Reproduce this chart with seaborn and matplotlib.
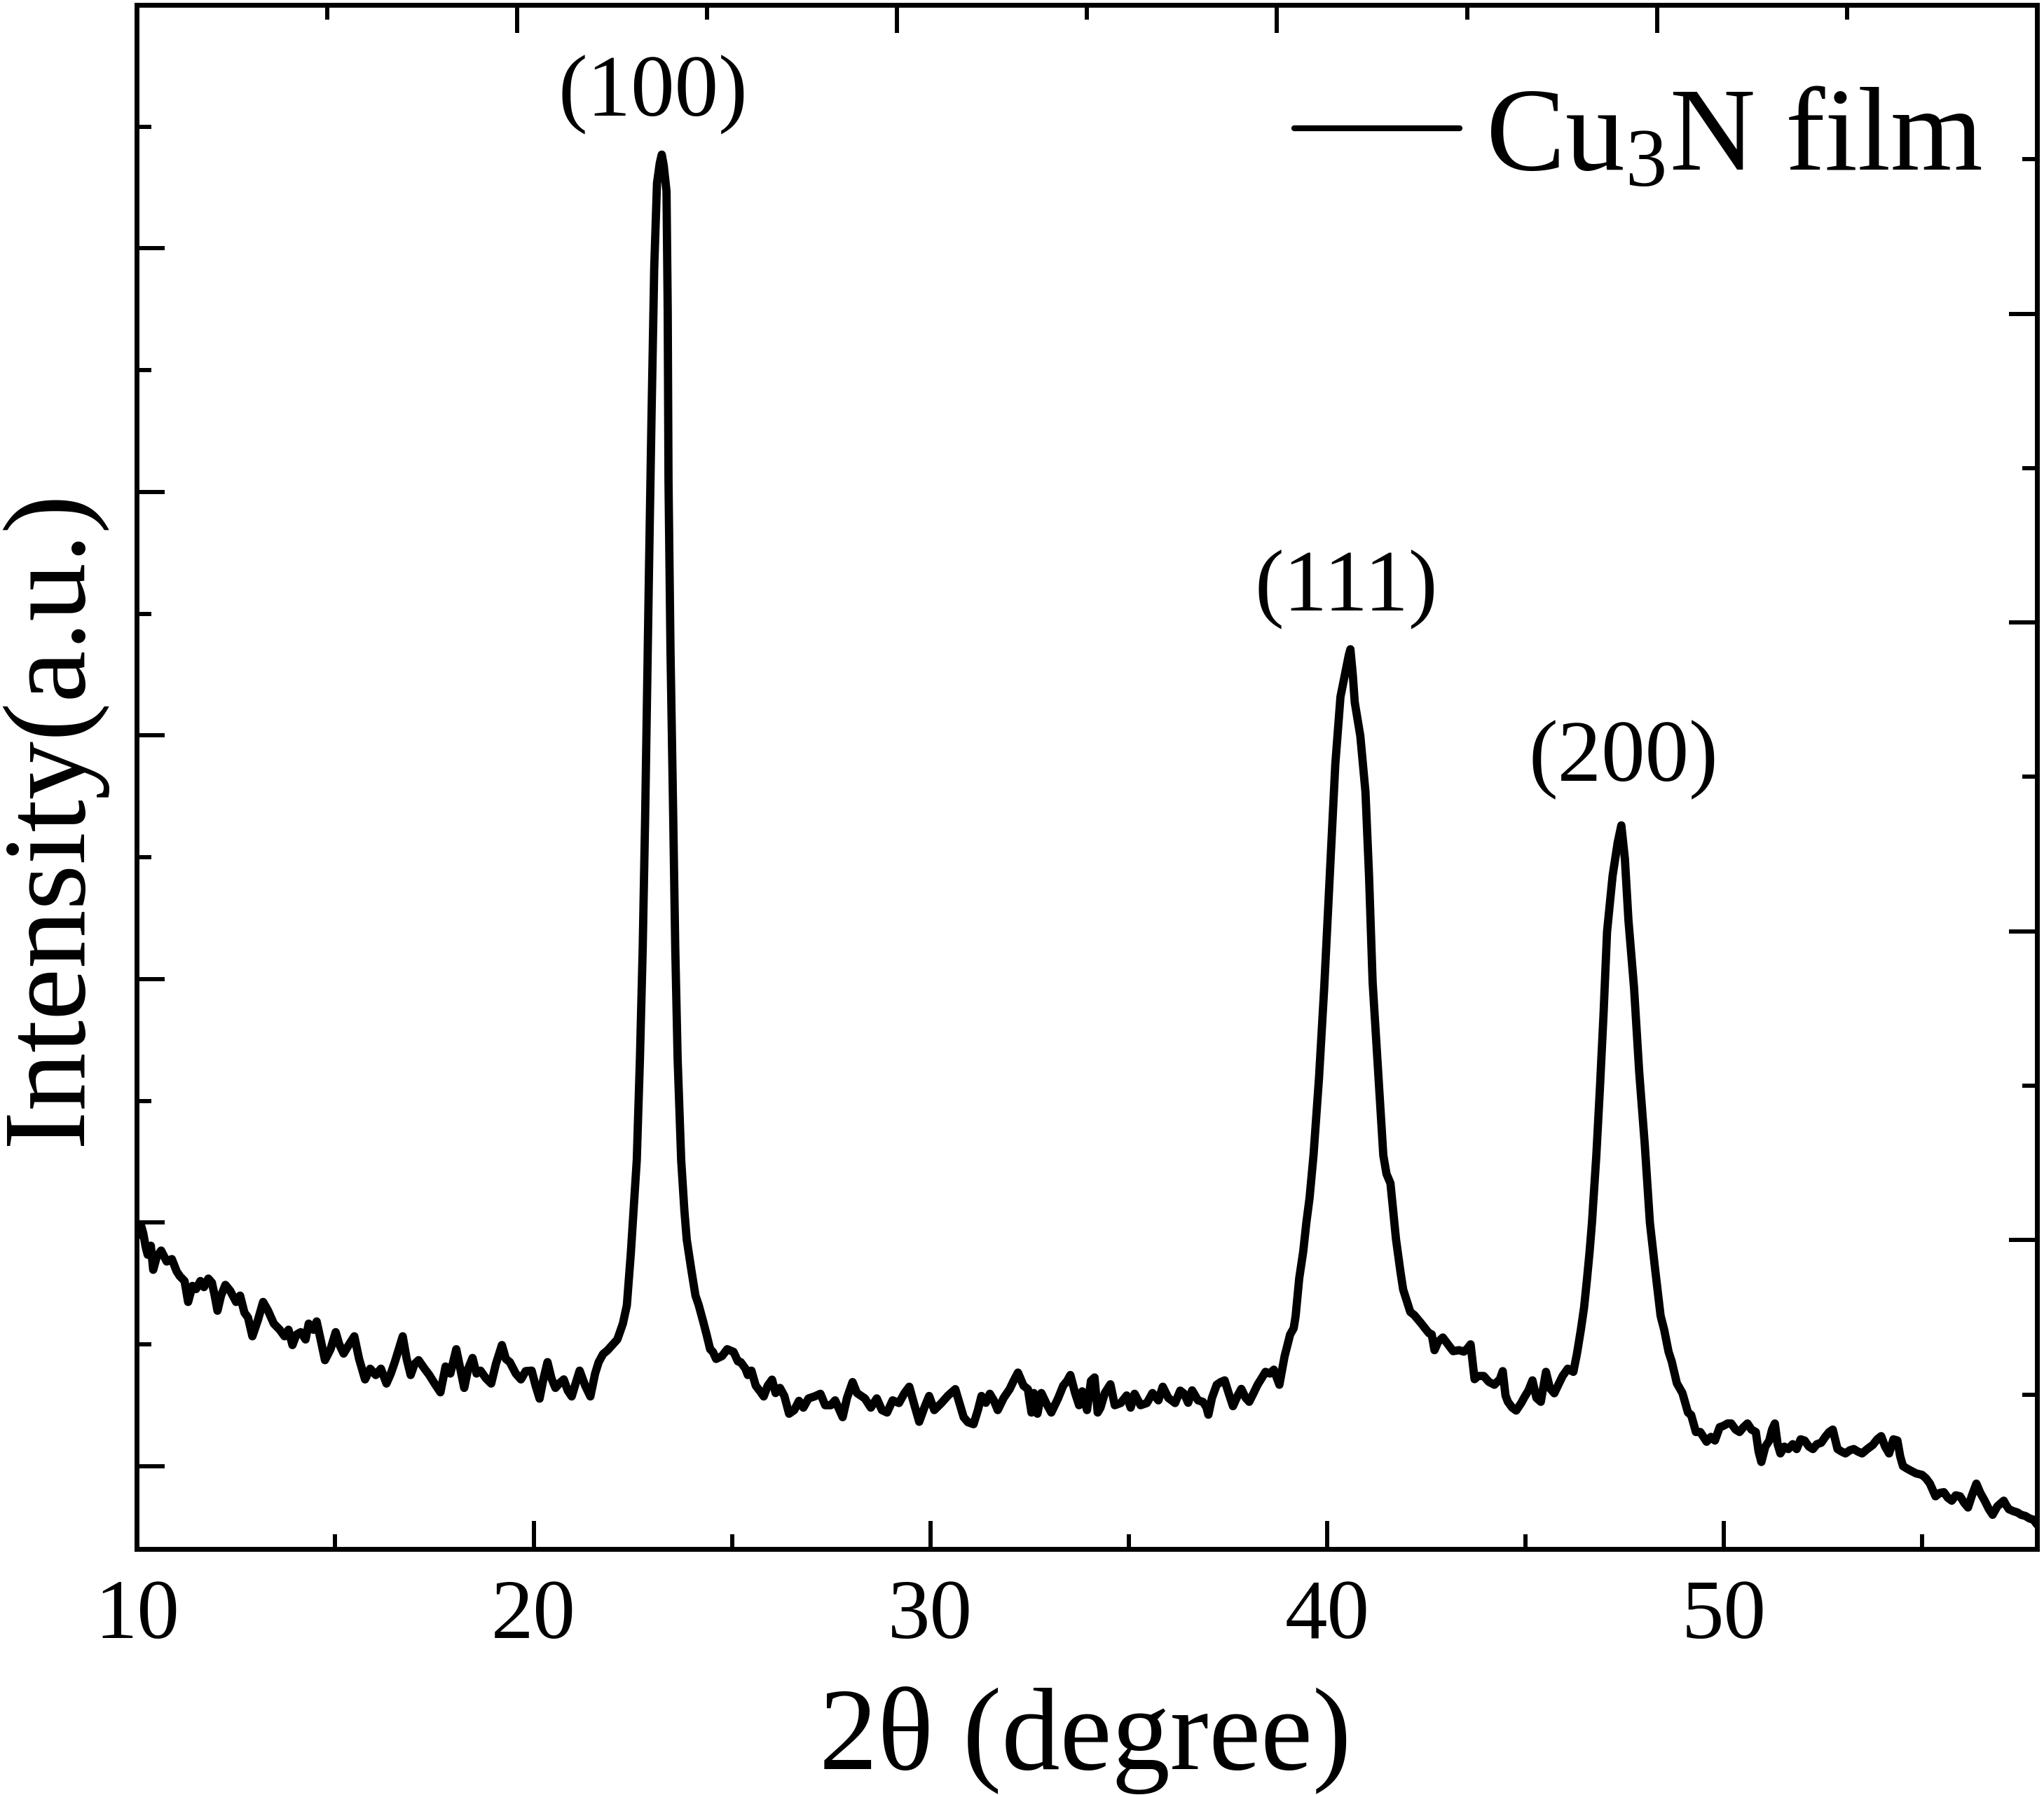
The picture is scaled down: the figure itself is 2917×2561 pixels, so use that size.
import matplotlib
matplotlib.use("Agg")
import matplotlib.pyplot as plt
import seaborn as sns
from matplotlib.ticker import FixedLocator, NullFormatter

# XRD pattern of the Cu3N film
two_theta = [
    10.00, 10.05, 10.10, 10.16, 10.22, 10.27, 10.35, 10.41, 10.50, 10.61, 10.75, 10.88,
    11.00, 11.08, 11.20, 11.29, 11.40, 11.49, 11.60, 11.69, 11.80, 11.89, 11.96,
    12.03, 12.12, 12.23, 12.35, 12.50, 12.60, 12.71, 12.80, 12.91,
    13.05, 13.18, 13.30, 13.45, 13.60, 13.72, 13.82, 13.92,
    14.02, 14.13, 14.25, 14.33, 14.45, 14.53, 14.63, 14.74, 14.88,
    15.01, 15.10, 15.21, 15.35, 15.48, 15.60, 15.75, 15.88,
    16.02, 16.15, 16.29, 16.40, 16.50, 16.60, 16.70, 16.80, 16.90,
    17.00, 17.10, 17.25, 17.37, 17.50, 17.65, 17.78, 17.90,
    18.05, 18.15, 18.25, 18.35, 18.46, 18.56, 18.66, 18.80, 18.93,
    19.05, 19.20, 19.30, 19.40, 19.55, 19.68, 19.80, 19.95,
    20.05, 20.15, 20.25, 20.35, 20.45, 20.55, 20.65, 20.76, 20.86, 20.96,
    21.06, 21.16, 21.30, 21.43, 21.55, 21.64, 21.75, 21.86,
    22.00, 22.11, 22.25, 22.35, 22.45, 22.52, 22.60, 22.68, 22.75, 22.81, 22.86, 22.91, 22.97,
    23.04, 23.11, 23.18, 23.23, 23.28, 23.35, 23.38, 23.40, 23.45, 23.52, 23.57, 23.63, 23.72,
    23.80, 23.86, 23.98, 24.08, 24.16, 24.28, 24.36, 24.45, 24.52, 24.60, 24.75, 24.88,
    25.04, 25.15, 25.22, 25.34, 25.40, 25.49, 25.60, 25.71, 25.80, 25.90,
    26.01, 26.10, 26.21, 26.32, 26.44, 26.57, 26.69, 26.80, 26.93,
    27.08, 27.23, 27.35, 27.49, 27.60, 27.79, 27.90,
    28.04, 28.15, 28.35, 28.50, 28.65, 28.78, 28.91,
    29.05, 29.21, 29.35, 29.47, 29.60, 29.72, 29.85, 29.97,
    30.10, 30.28, 30.45, 30.63, 30.75, 30.84, 30.95,
    31.09, 31.20, 31.29, 31.40, 31.50, 31.60, 31.70, 31.85,
    32.00, 32.10, 32.21, 32.35, 32.46, 32.55, 32.61, 32.70, 32.80, 32.92,
    33.05, 33.22, 33.35, 33.45, 33.53, 33.65, 33.75, 33.83, 33.95,
    34.05, 34.14, 34.22, 34.29, 34.40, 34.54, 34.65, 34.80, 34.95,
    35.05, 35.15, 35.30, 35.46, 35.60, 35.75, 35.86,
    36.00, 36.17, 36.30, 36.40, 36.50, 36.60, 36.75, 36.87, 36.96,
    37.01, 37.10, 37.22, 37.32, 37.42, 37.52, 37.63, 37.75, 37.84, 37.95,
    38.04, 38.15, 38.25, 38.35, 38.45, 38.56, 38.66, 38.80, 38.93,
    39.07, 39.16, 39.21, 39.30, 39.40, 39.48, 39.56, 39.66, 39.80, 39.93,
    40.07, 40.21, 40.34, 40.48, 40.55, 40.59, 40.65, 40.70, 40.84, 40.97,
    41.06, 41.15, 41.29, 41.42, 41.50, 41.60, 41.74, 41.85, 41.92,
    42.10, 42.20, 42.37, 42.50, 42.57, 42.64, 42.71, 42.80, 42.92,
    43.05, 43.18, 43.33, 43.45, 43.54, 43.62, 43.72, 43.81, 43.95,
    44.08, 44.22, 44.36, 44.43, 44.50, 44.56, 44.67, 44.77, 44.90, 44.97,
    45.08, 45.18, 45.28, 45.39, 45.52, 45.62, 45.73, 45.85, 45.94,
    46.07, 46.21, 46.30, 46.40, 46.48, 46.55, 46.62, 46.68, 46.79, 46.88, 46.97,
    47.06, 47.20, 47.33, 47.42, 47.51, 47.60, 47.74, 47.87,
    48.01, 48.14, 48.27, 48.41, 48.50, 48.61, 48.69, 48.82, 48.96,
    49.10, 49.18, 49.30, 49.41, 49.57, 49.68, 49.78, 49.90, 49.99,
    50.10, 50.19, 50.30, 50.40, 50.50, 50.60, 50.70, 50.81, 50.88, 50.95,
    51.05, 51.15, 51.22, 51.29, 51.36, 51.43, 51.53, 51.63, 51.74, 51.84, 51.94,
    52.04, 52.15, 52.25, 52.35, 52.46, 52.56, 52.66, 52.75, 52.87, 52.97,
    53.07, 53.18, 53.28, 53.38, 53.49, 53.62, 53.76, 53.87, 53.97,
    54.07, 54.17, 54.28, 54.38, 54.45, 54.52, 54.62, 54.72, 54.85,
    55.00, 55.10, 55.20, 55.34, 55.45, 55.55, 55.65, 55.75, 55.85, 55.96,
    56.06, 56.16, 56.26, 56.37, 56.47, 56.58, 56.68, 56.78, 56.90,
    57.06, 57.12, 57.19, 57.30, 57.40, 57.50, 57.61, 57.71, 57.81, 57.90,
]
intensity = [
    945, 975, 990, 955, 900, 868, 905, 806, 860, 885, 840, 850,
    800, 780, 760, 674, 740, 727, 760, 735, 770, 753, 700,
    638, 700, 744, 720, 674, 700, 630, 610, 533,
    600, 674, 640, 585, 560, 533, 560, 497,
    540, 550, 520, 585, 560, 594, 520, 435, 480,
    550, 500, 462, 500, 533, 440, 356, 400,
    374, 400, 339, 380, 427, 480, 533, 440, 374,
    420, 435, 400, 374, 340, 303, 409, 380,
    480, 400, 321, 400, 444, 380, 392, 360, 339,
    420, 497, 440, 427, 380, 356, 390, 392,
    330, 277, 360, 427, 360, 321, 340, 356, 310, 286,
    340, 392, 330, 286, 380, 427, 460, 475,
    500, 520, 585, 660, 873, 1050, 1256, 1673, 2128, 2653, 3174, 3698, 4292,
    4920, 5268, 5350, 5385, 5340, 5234, 4747, 4047, 3350, 2653, 2128, 1673, 1256,
    1050, 930, 801, 700, 662, 590, 540, 480, 469, 440, 452, 480,
    469, 430, 427, 400, 374, 392, 330, 307, 286, 330,
    355, 300, 321, 288, 215, 230, 268, 240, 278,
    286, 297, 250, 250, 270, 201, 280,
    345, 300, 278, 240, 278, 230, 220,
    270, 259, 300, 326, 250, 182, 240, 288,
    230, 259, 290, 316, 250, 201, 180,
    172, 230, 288, 260, 297, 270, 230, 280,
    316, 350, 384, 330, 316, 220, 300, 215, 300, 259,
    220, 278, 330, 350, 374, 300, 250, 307, 230,
    350, 364, 220, 240, 300, 336, 250, 259, 290,
    240, 297, 250, 259, 300, 270, 326,
    280, 259, 310, 297, 260, 311, 270, 264, 242,
    211, 280, 334, 345, 352, 300, 246, 290, 317, 280,
    264, 300, 334, 360, 387, 380, 396, 334, 450,
    540, 566, 617, 771, 880, 1000, 1100, 1276, 1597, 1965,
    2424, 2883, 3159, 3274, 3330, 3354, 3250, 3136, 2998, 2768,
    2424, 1988, 1620, 1276, 1200, 1161, 931, 800, 725,
    633, 620, 587, 560, 546, 541, 476, 510, 528,
    500, 472, 476, 470, 483, 500, 357, 370, 370,
    346, 334, 357, 390, 290, 264, 240, 228, 260, 281,
    311, 352, 280, 264, 387, 320, 299, 340, 370,
    400, 387, 460, 560, 650, 760, 880, 1000, 1276, 1551, 1850,
    2194, 2424, 2562, 2631, 2493, 2240, 1965, 1620,
    1322, 1000, 811, 617, 560, 470, 430, 340, 300,
    220, 210, 140, 140, 100, 120, 105, 160, 165,
    175, 175, 150, 140, 160, 175, 150, 140, 60, 17,
    80, 105, 150, 175, 90, 52, 80, 70, 90, 70, 110,
    105, 80, 70, 90, 96, 120, 140, 150, 70, 60,
    52, 65, 70, 60, 52, 70, 87, 110, 123,
    80, 52, 110, 105, 40, 0, -10, -19, -30,
    -36, -50, -72, -124, -110, -107, -130, -142, -120, -124,
    -150, -170, -120, -72, -110, -142, -175, -200, -165,
    -142, -160, -177, -185, -190, -200, -205, -215, -220, -240,
]

peak_labels = ["(100)", "(111)", "(200)"]
peak_label_x = [23.0, 40.48, 47.47]
peak_label_y = [5630, 3600, 2900]

x_major = [10, 20, 30, 40, 50]
x_minor = [15, 25, 35, 45, 55]
y_major = [0, 1000, 2000, 3000, 4000, 5000]
y_minor = [500, 1500, 2500, 3500, 4500, 5500]
frame_major = [0.2, 0.4, 0.6, 0.8]
frame_minor = [0.1, 0.3, 0.5, 0.7, 0.9]

sns.set_style("ticks")
plt.rcParams["font.family"] = ["Liberation Serif", "DejaVu Serif"]
plt.rcParams["mathtext.fontset"] = "custom"
plt.rcParams["mathtext.rm"] = "Liberation Serif"
plt.rcParams["mathtext.it"] = "Liberation Serif:italic"
plt.rcParams["text.color"] = "black"
plt.rcParams["axes.labelcolor"] = "black"
plt.rcParams["xtick.color"] = "black"
plt.rcParams["ytick.color"] = "black"
plt.rcParams["axes.edgecolor"] = "black"

fig = plt.figure(figsize=(29.17, 25.61), dpi=100)
ax = fig.add_axes([0.0670, 0.1371, 0.9296, 0.8602])

sns.lineplot(x=two_theta, y=intensity, ax=ax, color="black", linewidth=8.5,
             estimator=None, sort=False, label="Cu$_3$N film")

ax.set_xlim(10, 57.9)
ax.set_ylim(-340, 6000)

spine_w = 5.0
tick_w = 4.3
for s in ax.spines.values():
    s.set_linewidth(spine_w)
    s.set_color("black")

ax.xaxis.set_major_locator(FixedLocator(x_major))
ax.xaxis.set_minor_locator(FixedLocator(x_minor))
ax.yaxis.set_major_locator(FixedLocator(y_major))
ax.yaxis.set_minor_locator(FixedLocator(y_minor))
ax.yaxis.set_major_formatter(NullFormatter())
ax.tick_params(axis="both", which="major", direction="in", length=29, width=tick_w,
               color="black", labelcolor="black", labelsize=87, pad=31)
ax.tick_params(axis="both", which="minor", direction="in", length=15, width=tick_w,
               color="black")
ax.tick_params(axis="y", which="both", right=False, labelleft=False)
ax.tick_params(axis="x", which="both", top=False)

# top and right frame ticks have their own even spacing
ax_r = ax.twinx()
ax_r.set_ylim(0, 1)
ax_r.yaxis.set_major_locator(FixedLocator(frame_major))
ax_r.yaxis.set_minor_locator(FixedLocator(frame_minor))
ax_r.tick_params(axis="y", which="major", direction="in", length=29, width=tick_w,
                 labelright=False, color="black")
ax_r.tick_params(axis="y", which="minor", direction="in", length=15, width=tick_w,
                 color="black")
ax_t = ax.twiny()
ax_t.set_xlim(0, 1)
ax_t.xaxis.set_major_locator(FixedLocator(frame_major))
ax_t.xaxis.set_minor_locator(FixedLocator(frame_minor))
ax_t.tick_params(axis="x", which="major", direction="in", length=29, width=tick_w,
                 labeltop=False, color="black")
ax_t.tick_params(axis="x", which="minor", direction="in", length=15, width=tick_w,
                 color="black")
for twin in (ax_r, ax_t):
    for s in twin.spines.values():
        s.set_visible(False)

ax.set_xlabel("2θ (degree)", fontsize=120, color="black")
ax.xaxis.set_label_coords(0.499, -0.124)
ax.xaxis.label.set_verticalalignment("center")
ax.set_ylabel("Intensity(a.u.)", fontsize=120, color="black")
ax.yaxis.set_label_coords(-0.0446, 0.4734)
ax.yaxis.label.set_verticalalignment("center")

for txt, px, py in zip(peak_labels, peak_label_x, peak_label_y):
    ax.text(px, py, txt, fontsize=90, ha="center", va="center", color="black")

leg = ax.legend(loc="center right", bbox_to_anchor=(0.9712, 0.912), frameon=False,
                fontsize=122, handlelength=1.39, handletextpad=0.22,
                borderpad=0, borderaxespad=0, labelcolor="black")
for line in leg.get_lines():
    line.set_linewidth(6.0)

fig.savefig("out.png", dpi=100)
